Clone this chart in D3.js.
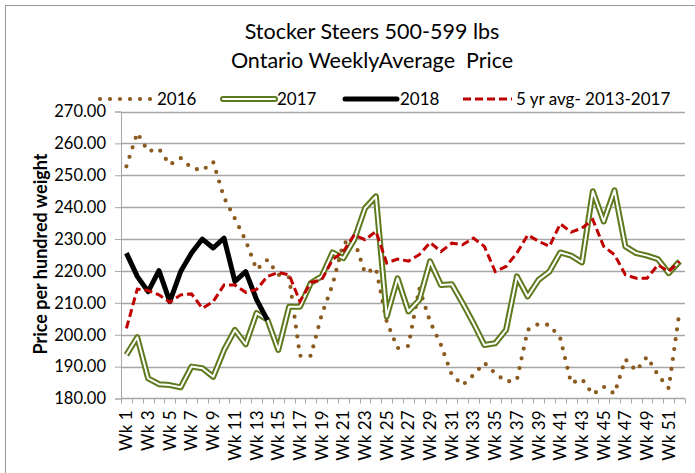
<!DOCTYPE html>
<html>
<head>
<meta charset="utf-8">
<script src="https://cdn.jsdelivr.net/npm/d3@7"></script>
<style>
  body { margin: 0; background: #fff; }
  svg text { font-family: Lato, "Open Sans", sans-serif; fill: #000; }
</style>
</head>
<body>
<div id="chart"></div>
<script>
// week categories and y tick values
var weeks = d3.range(1, 53).map(function(i){ return "Wk " + i; });
var yTicks = [180, 190, 200, 210, 220, 230, 240, 250, 260, 270];

// series values ($ per cwt)
var y2016 = [252.8, 263.3, 257.5, 258.3, 253.3, 255.4, 252.3, 251.5, 254.2, 243.0,
             236.4, 229.5, 220.4, 223.5, 218.8, 218.0, 193.4, 193.4, 206.2, 215.6,
             228.7, 229.8, 219.3, 220.9, 204.1, 195.8, 196.5, 214.6, 204.1, 196.8,
             187.4, 184.2, 187.4, 191.2, 187.9, 185.3, 185.8, 201.5, 203.4, 203.1,
             198.9, 184.8, 186.1, 181.3, 183.7, 181.5, 192.3, 188.7, 193.1, 187.4,
             183.2, 207.5];
var y2017 = [193.7, 199.2, 186.3, 184.5, 184.2, 183.5, 190.0, 189.5, 186.8, 195.2,
             201.5, 197.0, 206.8, 204.7, 195.2, 208.8, 208.8, 216.2, 218.3, 225.8,
             224.0, 229.8, 239.7, 243.4, 205.7, 217.7, 207.3, 210.9, 223.0, 215.6,
             215.8, 209.9, 203.6, 196.8, 197.3, 201.5, 218.3, 212.0, 217.2, 219.8,
             225.8, 224.8, 222.7, 245.0, 235.5, 245.3, 227.7, 225.6, 224.8, 223.7,
             219.3, 223.0];
var y2018 = [225.6, 218.3, 213.5, 220.1, 210.4, 219.8, 225.6, 230.0, 227.2, 230.3,
             216.7, 219.8, 211.0, 204.6];
var yAvg  = [202.0, 214.3, 213.9, 212.5, 210.2, 212.5, 212.8, 208.3, 210.4, 215.6,
             215.6, 213.3, 214.2, 218.3, 219.5, 218.8, 210.4, 216.4, 217.2, 223.5,
             226.1, 231.3, 229.8, 232.4, 222.5, 223.7, 223.1, 225.1, 228.9, 226.1,
             228.7, 228.2, 230.3, 227.7, 219.8, 221.4, 225.6, 231.3, 229.3, 227.7,
             234.8, 232.2, 233.4, 236.1, 227.7, 225.1, 218.8, 217.7, 217.7, 221.9,
             219.8, 223.0];

var W = 695, H = 473;
var plot = {left: 121, right: 685, top: 111.5, bottom: 398.5};
var gray = "#a6a6a6";

var svg = d3.select("#chart").append("svg").attr("width", W).attr("height", H);
svg.append("rect").attr("width", W).attr("height", H).attr("fill", "#fff");
// chart frame (only top/left edges fall inside the picture)
svg.append("rect").attr("x", 5.5).attr("y", 5.5).attr("width", 720).attr("height", 500)
	.attr("fill", "none").attr("stroke", "#9a9a9a");

var x = d3.scaleBand().domain(weeks).range([plot.left, plot.right]).padding(0);
var y = d3.scaleLinear().domain([180, 270]).range([plot.bottom, plot.top]);
var cx = function(d, i){ return x(weeks[i]) + x.bandwidth() / 2; };

// title
svg.append("text").attr("x", 372).attr("y", 39).attr("text-anchor", "middle")
	.style("font-size", "21.5px").text("Stocker Steers 500-599 lbs");
svg.append("text").attr("x", 372).attr("y", 68).attr("text-anchor", "middle")
	.style("font-size", "21.5px").style("white-space", "pre").text("Ontario WeeklyAverage  Price");

// gridlines + y axis
var yAxis = svg.append("g").attr("transform", "translate(" + plot.left + ",0)")
	.call(d3.axisLeft(y).tickValues(yTicks).tickFormat(d3.format(".2f")).tickSize(6).tickPadding(9));
yAxis.select(".domain").attr("stroke", gray);
yAxis.selectAll(".tick line").attr("stroke", gray);
yAxis.selectAll(".tick text").style("font-size", "16.5px").style("font-family", "Lato");
svg.append("g").selectAll("line").data(yTicks.slice(1)).enter().append("line")
	.attr("x1", plot.left).attr("x2", plot.right)
	.attr("y1", function(d){ return Math.round(y(d)) + 0.5; })
	.attr("y2", function(d){ return Math.round(y(d)) + 0.5; })
	.attr("stroke", gray).attr("stroke-width", 1.3);

// x axis with ticks between categories
var xg = svg.append("g");
xg.append("line").attr("x1", plot.left).attr("x2", plot.right)
	.attr("y1", plot.bottom).attr("y2", plot.bottom).attr("stroke", gray).attr("stroke-width", 1.3);
var bounds = weeks.map(function(w){ return x(w); }).concat([x.range()[1]]);
xg.selectAll("line.tk").data(bounds).enter().append("line").attr("class", "tk")
	.attr("x1", function(d){ return Math.round(d) + 0.5; })
	.attr("x2", function(d){ return Math.round(d) + 0.5; })
	.attr("y1", plot.bottom).attr("y2", plot.bottom + 5).attr("stroke", gray);
xg.selectAll("text").data(weeks.filter(function(w, i){ return i % 2 === 0; })).enter().append("text")
	.attr("transform", function(d){ return "translate(" + (x(d) + x.bandwidth() / 2) + "," + (plot.bottom + 12) + ") rotate(-90)"; })
	.attr("text-anchor", "end").attr("dy", "0.35em")
	.style("font-size", "17px").text(function(d){ return d; });

// y axis title
svg.append("text").attr("transform", "translate(47,254) rotate(-90)")
	.attr("text-anchor", "middle").style("font-size", "18px").style("font-weight", "bold")
	.text("Price per hundred weight");

// series
var line = d3.line().x(cx).y(function(d){ return y(d); });
var lines = svg.append("g");
lines.append("path").datum(y2016).attr("d", line).attr("fill", "none")
	.attr("stroke", "#8b5a1e").attr("stroke-width", 4.2).attr("stroke-linecap", "round")
	.attr("stroke-dasharray", "0 10");
lines.append("path").datum(y2017).attr("d", line).attr("fill", "none")
	.attr("stroke", "#5e7a1e").attr("stroke-width", 6).attr("stroke-linejoin", "round");
lines.append("path").datum(y2017).attr("d", line).attr("fill", "none")
	.attr("stroke", "#fff").attr("stroke-width", 2).attr("stroke-linejoin", "round");
lines.append("path").datum(y2018).attr("d", line).attr("fill", "none")
	.attr("stroke", "#000").attr("stroke-width", 5).attr("stroke-linejoin", "round");
lines.append("path").datum(yAvg).attr("d", line).attr("fill", "none")
	.attr("stroke", "#c00000").attr("stroke-width", 3).attr("stroke-dasharray", "8 4");

// legend
var lg = svg.append("g");
var ly = 99;
lg.append("line").attr("x1", 100).attr("x2", 151).attr("y1", ly).attr("y2", ly)
	.attr("stroke", "#8b5a1e").attr("stroke-width", 4.2).attr("stroke-linecap", "round").attr("stroke-dasharray", "0 10");
lg.append("line").attr("x1", 223).attr("x2", 275).attr("y1", ly).attr("y2", ly)
	.attr("stroke", "#5e7a1e").attr("stroke-width", 6).attr("stroke-linecap", "round");
lg.append("line").attr("x1", 223).attr("x2", 275).attr("y1", ly).attr("y2", ly)
	.attr("stroke", "#fff").attr("stroke-width", 2).attr("stroke-linecap", "round");
lg.append("line").attr("x1", 345).attr("x2", 397).attr("y1", ly).attr("y2", ly)
	.attr("stroke", "#000").attr("stroke-width", 5).attr("stroke-linecap", "round");
lg.append("line").attr("x1", 463).attr("x2", 512).attr("y1", ly).attr("y2", ly)
	.attr("stroke", "#c00000").attr("stroke-width", 3).attr("stroke-dasharray", "8 4");
var legendText = [[157, "2016"], [277, "2017"], [400, "2018"], [516, "5 yr avg- 2013-2017"]];
lg.selectAll("text").data(legendText).enter().append("text")
	.attr("x", function(d){ return d[0]; }).attr("y", ly).attr("dy", "0.35em")
	.style("font-size", "17px").text(function(d){ return d[1]; });
</script>
</body>
</html>
